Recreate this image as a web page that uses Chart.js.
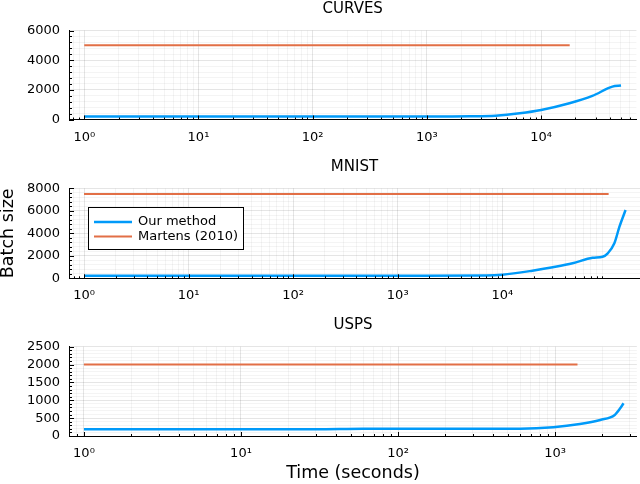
<!DOCTYPE html>
<html>
<head>
<meta charset="utf-8">
<script src="https://cdn.jsdelivr.net/npm/chart.js@4.4.0/dist/chart.umd.min.js"></script>
<style>
  body { margin: 0; background: #fff; }
  .panel { position: absolute; left: 0; width: 640px; }
  canvas { display: block; }
</style>
</head>
<body>
<div class="panel" style="top:0"><canvas id="curves" width="640" height="150"></canvas></div>
<div class="panel" style="top:155px"><canvas id="mnist" width="640" height="150"></canvas></div>
<div class="panel" style="top:315px"><canvas id="usps" width="640" height="169"></canvas></div>
<script>
"use strict"

const seriesNames = ['Our method', 'Martens (2010)'];

// CURVES
const curvesOursX = [1, 1000, 2400, 4000, 6500, 10000, 17700, 28100, 42100, 50100];
const curvesOursY = [200, 200, 215, 260, 420, 640, 1095, 1590, 2215, 2285];
const curvesMartensX = [1, 17800];
const curvesMartensY = [5000, 5000];

// MNIST
const mnistOursX = [1, 1000, 7000, 10000, 19400, 30400, 47000, 73000, 91000, 102000, 118000, 132000, 151000];
const mnistOursY = [230, 230, 250, 320, 675, 980, 1330, 1830, 1920, 2220, 3110, 4590, 6070];
const mnistMartensX = [1, 104000];
const mnistMartensY = [7500, 7500];

// USPS
const uspsOursX = [1, 30, 60, 600, 975, 1440, 1940, 2400, 2600, 2730];
const uspsOursY = [190, 190, 205, 205, 245, 335, 450, 590, 775, 915];
const uspsMartensX = [1, 1390];
const uspsMartensY = [2000, 2000];

const BLUE = '#009af9';
const RED = '#e26f46';
const FONT = "'DejaVu Sans', sans-serif";

const toPts = (xs, ys) => xs.map((x, i) => ({ x, y: ys[i] }));

const sup = { '0': '⁰', '1': '¹', '2': '²', '3': '³', '4': '⁴', '5': '⁵', '-': '⁻' };
const powLabel = (k) => '10' + String(k).split('').map(c => sup[c]).join('');

// 1..9 x 10^k ticks, labels only on the decades
const logTicks = (tickMax) => (scale) => {
    const ticks = [];
    const top = Math.min(scale.max, tickMax || Infinity);
    const lo = Math.floor(Math.log10(scale.min));
    const hi = Math.ceil(Math.log10(top));
    for (let k = lo; k <= hi; k++) {
        for (let m = 1; m <= 9; m++) {
            const v = m * Math.pow(10, k);
            if (v >= scale.min && v <= top) ticks.push({ value: v, major: m === 1 });
        }
    }
    scale.ticks = ticks;
};

const linTicks = (step, every) => (scale) => {
    const ticks = [];
    const n = Math.round((scale.max - scale.min) / step);
    for (let i = 0; i <= n; i++) {
        ticks.push({ value: scale.min + i * step, major: i % every === 0 });
    }
    scale.ticks = ticks;
};

const gridColor = (c) => (c.tick && c.tick.major) ? 'rgba(0,0,0,0.10)' : 'rgba(0,0,0,0.045)';

// plots-style short ticks pointing into the plot
const innerTicks = {
    id: 'innerTicks',
    afterDraw(chart) {
        const { ctx, chartArea, scales } = chart;
        ctx.save();
        ctx.strokeStyle = '#000';
        ctx.lineWidth = 1;
        ctx.beginPath();
        scales.x.ticks.forEach(t => {
            const px = Math.round(scales.x.getPixelForValue(t.value)) + 0.5;
            ctx.moveTo(px, chartArea.bottom);
            ctx.lineTo(px, chartArea.bottom - (t.major ? 4 : 2));
        });
        scales.y.ticks.forEach(t => {
            const py = Math.round(scales.y.getPixelForValue(t.value)) + 0.5;
            ctx.moveTo(chartArea.left, py);
            ctx.lineTo(chartArea.left + (t.major ? 5 : 3), py);
        });
        ctx.stroke();
        ctx.restore();
    }
};

const boxLegend = {
    id: 'boxLegend',
    afterDraw(chart, args, opts) {
        if (!opts.show) return;
        const { ctx, chartArea } = chart;
        const x = Math.round(chartArea.left + opts.dx);
        const y = Math.round(chartArea.top + opts.dy);
        ctx.save();
        ctx.fillStyle = '#fff';
        ctx.fillRect(x, y, opts.w, opts.h);
        ctx.strokeStyle = '#000';
        ctx.lineWidth = 1;
        ctx.strokeRect(x + 0.5, y + 0.5, opts.w, opts.h);
        ctx.font = `13px ${FONT}`;
        ctx.textBaseline = 'middle';
        chart.data.datasets.forEach((ds, i) => {
            const ry = y + opts.row0 + i * opts.rowGap;
            ctx.strokeStyle = ds.borderColor;
            ctx.lineWidth = ds.borderWidth;
            ctx.beginPath();
            ctx.moveTo(x + 6, ry);
            ctx.lineTo(x + 44, ry);
            ctx.stroke();
            ctx.fillStyle = '#000';
            ctx.fillText(ds.label, x + 50, ry);
        });
        ctx.restore();
    }
};

const makePanel = (id, p) => new Chart(document.getElementById(id), {
    type: 'line',
    data: {
        datasets: [
            { label: seriesNames[0], data: toPts(p.oursX, p.oursY), borderColor: BLUE, borderWidth: 2.5 },
            { label: seriesNames[1], data: toPts(p.martensX, p.martensY), borderColor: RED, borderWidth: 2 },
        ]
    },
    options: {
        responsive: false,
        animation: false,
        events: [],
        layout: { padding: 0 },
        elements: {
            point: { radius: 0 },
            line: { cubicInterpolationMode: 'monotone', fill: false }
        },
        plugins: {
            legend: { display: false },
            tooltip: { enabled: false },
            title: {
                display: true,
                fullSize: false,
                text: p.title,
                color: '#000',
                font: { family: FONT, size: 15, weight: 'normal', lineHeight: 1.2 },
                padding: p.titlePad
            },
            boxLegend: p.legend || { show: false }
        },
        scales: {
            x: {
                type: 'logarithmic',
                min: p.xMin,
                max: p.xMax,
                bounds: 'data',
                afterBuildTicks: logTicks(p.xTickMax),
                afterFit: (s) => { s.height = p.xHeight; },
                grid: { color: gridColor, drawTicks: false },
                border: { color: '#000', width: 1 },
                ticks: {
                    autoSkip: false,
                    maxRotation: 0,
                    padding: 10,
                    color: '#000',
                    font: { family: FONT, size: 13 },
                    callback: (v, i, ticks) => ticks[i].major ? powLabel(Math.round(Math.log10(v))) : ''
                },
                title: {
                    display: !!p.xTitle,
                    text: p.xTitle || '',
                    color: '#000',
                    font: { family: FONT, size: 17.5, lineHeight: 1 },
                    padding: { top: 0, bottom: 1.5 }
                }
            },
            y: {
                type: 'linear',
                min: 0,
                max: p.yMax,
                afterBuildTicks: linTicks(p.yMinor, 5),
                afterFit: (s) => { s.width = 69; },
                grid: { color: gridColor, drawTicks: false },
                border: { color: '#000', width: 1 },
                ticks: {
                    autoSkip: false,
                    padding: 9,
                    color: '#000',
                    font: { family: FONT, size: 13 },
                    callback: (v, i, ticks) => ticks[i].major ? String(v) : ''
                },
                title: {
                    display: !!p.yTitle,
                    text: p.yTitle || '',
                    color: '#000',
                    font: { family: FONT, size: 17.5, lineHeight: 1 },
                    padding: 0
                }
            }
        }
    },
    plugins: [innerTicks, boxLegend]
});

makePanel('curves', {
    title: 'CURVES',
    titlePad: { top: 0, bottom: 12.5 },
    oursX: curvesOursX, oursY: curvesOursY,
    martensX: curvesMartensX, martensY: curvesMartensY,
    xMin: 0.735, xMax: 68400, xHeight: 30.5,
    yMax: 6000, yMinor: 400
});

makePanel('mnist', {
    title: 'MNIST',
    titlePad: { top: 2.7, bottom: 12.6 },
    oursX: mnistOursX, oursY: mnistOursY,
    martensX: mnistMartensX, martensY: mnistMartensY,
    xMin: 0.718, xMax: 207500, xTickMax: 95000, xHeight: 26.7,
    yMax: 8000, yMinor: 400,
    yTitle: 'Batch size',
    legend: { show: true, dx: 19, dy: 19, w: 155, h: 42, row0: 15, rowGap: 14.4 }
});

makePanel('usps', {
    title: 'USPS',
    titlePad: { top: 1, bottom: 12.7 },
    oursX: uspsOursX, oursY: uspsOursY,
    martensX: uspsMartensX, martensY: uspsMartensY,
    xMin: 0.803, xMax: 3320, xHeight: 48,
    yMax: 2500, yMinor: 100,
    xTitle: 'Time (seconds)'
});
</script>
</body>
</html>
